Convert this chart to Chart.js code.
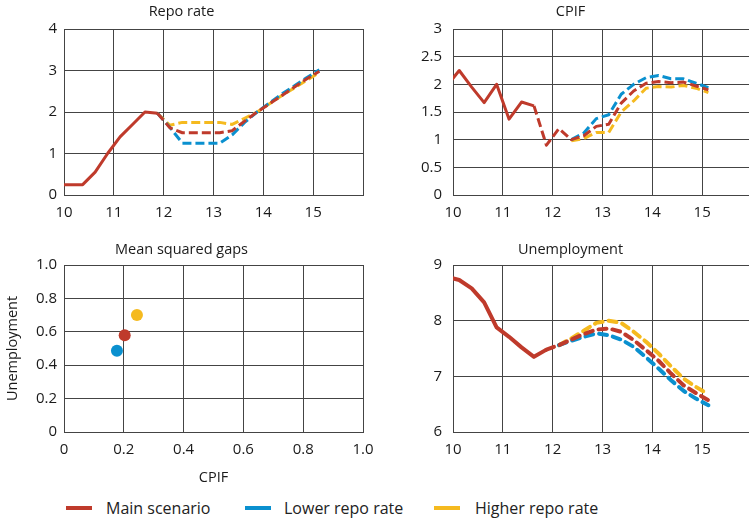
<!DOCTYPE html>
<html><head><meta charset="utf-8">
<script src="https://cdn.jsdelivr.net/npm/chart.js@4.4.0/dist/chart.umd.min.js"></script>
<style>
html,body{margin:0;padding:0;width:749px;height:520px;overflow:hidden;background:#fff;font-family:'Open Sans',sans-serif;}
.panel{position:absolute;}
#legend{position:absolute;left:0;top:498px;width:749px;height:20px;font-size:16px;color:#222;}
.item{position:absolute;top:0;height:20px;line-height:20px;white-space:nowrap;}
.swatch{position:absolute;top:8px;height:4px;width:26px;}
</style></head><body>
<div class="panel" style="left:0;top:0"><canvas id="c1" width="427" height="225"></canvas></div>
<div class="panel" style="left:389px;top:0"><canvas id="c2" width="427" height="225"></canvas></div>
<div class="panel" style="left:0;top:236px"><canvas id="c3" width="427" height="256"></canvas></div>
<div class="panel" style="left:389px;top:236px"><canvas id="c4" width="427" height="226"></canvas></div>
<div id="legend">
  <div class="swatch" style="left:66px;background:#bf3a2b"></div><div class="item" style="left:106px">Main scenario</div>
  <div class="swatch" style="left:245px;background:#0a90cf"></div><div class="item" style="left:284px">Lower repo rate</div>
  <div class="swatch" style="left:434px;background:#f5ba1f"></div><div class="item" style="left:475px">Higher repo rate</div>
</div>
<script>
// ---- data (x = year 20xx, quarter midpoints) ----
const quarters = [9.875,10.125,10.375,10.625,10.875,11.125,11.375,11.625,11.875,12.125,12.375,12.625,12.875,13.125,13.375,13.625,13.875,14.125,14.375,14.625,14.875,15.125];
const seriesNames = ['Main scenario','Lower repo rate','Higher repo rate'];

const repoHistory = [0.25,0.25,0.25,0.55,1.0,1.4,1.7,2.0,1.97,null,null,null,null,null,null,null,null,null,null,null,null,null];
const repoMain    = [null,null,null,null,null,null,null,null,1.97,1.62,1.5,1.5,1.5,1.5,1.55,1.78,2.0,2.2,2.4,2.6,2.8,2.98];
const repoLower   = [null,null,null,null,null,null,null,null,1.97,1.63,1.25,1.25,1.25,1.25,1.45,1.75,2.0,2.22,2.44,2.63,2.83,3.02];
const repoHigher  = [null,null,null,null,null,null,null,null,1.97,1.68,1.75,1.75,1.75,1.75,1.7,1.85,2.0,2.2,2.4,2.58,2.77,2.95];

const cpifHistory = [1.97,2.25,1.95,1.67,2.0,1.37,1.68,1.61,null,null,null,null,null,null,null,null,null,null,null,null,null,null];
const cpifMain    = [null,null,null,null,null,null,null,1.61,0.9,1.2,1.0,1.07,1.24,1.28,1.66,1.88,2.02,2.05,2.03,2.04,1.97,1.9];
const cpifLower   = [null,null,null,null,null,null,null,null,null,null,1.0,1.12,1.38,1.45,1.82,2.0,2.12,2.16,2.1,2.1,2.02,1.94];
const cpifHigher  = [null,null,null,null,null,null,null,null,null,null,0.98,1.02,1.13,1.13,1.5,1.7,1.93,1.96,1.95,1.98,1.93,1.85];

const unempHistory = [8.79,8.73,8.58,8.33,7.88,7.71,7.52,7.35,7.48,null,null,null,null,null,null,null,null,null,null,null,null,null];
const unempMain    = [null,null,null,null,null,null,null,null,7.48,7.56,7.66,7.76,7.84,7.86,7.8,7.65,7.47,7.28,7.05,6.84,6.7,6.57];
const unempLower   = [null,null,null,null,null,null,null,null,null,7.56,7.64,7.71,7.77,7.74,7.66,7.53,7.34,7.14,6.93,6.74,6.6,6.48];
const unempHigher  = [null,null,null,null,null,null,null,null,null,7.56,7.68,7.82,7.96,8.0,7.96,7.8,7.62,7.41,7.18,6.96,6.81,6.68];

// mean squared gaps: [CPIF, Unemployment] per scenario
const gapCPIF  = [0.203, 0.177, 0.244];
const gapUnemp = [0.58, 0.486, 0.70];

const yearTicks = [10,11,12,13,14,15];

// ---- styles ----
const RED='#bf3a2b', BLUE='#0a90cf', YEL='#f5ba1f';
const GRID='#444444', TXT='#1a1a1a';
const FONT="'Open Sans', sans-serif";
Chart.defaults.font.family = FONT;
Chart.defaults.color = TXT;
Chart.defaults.animation = false;

function pts(arr){ return quarters.map((x,i)=>({x, y: arr[i]})).filter(p=>p.y!==null); }
function line(arr, color, dashed, width){
  return {data: pts(arr), borderColor: color, backgroundColor: color, borderWidth: width,
          borderDash: dashed ? [9,4] : [], pointRadius: 0, fill:false, tension:0,
          borderCapStyle: 'butt', borderJoinStyle:'round'};
}
function timeChart(id, title, datasets, ymin, ymax, ystep, ypad, titlePad, fmt){
  return new Chart(document.getElementById(id), {
    type:'line',
    data:{datasets},
    options:{
      responsive:false, animation:false,
      layout:{padding:{left:0,right:64,top:0,bottom:0}},
      plugins:{legend:{display:false}, tooltip:{enabled:false},
        title:{display:true, text:title, color:TXT, font:{size:14.5, weight:'normal'}, padding:titlePad}},
      scales:{
        x:{type:'linear', min:10, max:16,
           afterBuildTicks: s => { s.ticks = yearTicks.concat([16]).map(v=>({value:v})); },
           ticks:{padding:9, font:{size:15}, color:TXT, autoSkip:false, maxRotation:0,
                  callback: v => yearTicks.includes(v) ? String(v) : ''},
           grid:{color:GRID, drawTicks:false, lineWidth:1},
           border:{color:GRID, width:1},
           afterFit: s => { s.height = 30; }},
        y:{min:ymin, max:ymax,
           ticks:{stepSize:ystep, padding:ypad, font:{size:15}, color:TXT, callback: fmt || (v=>String(v))},
           grid:{color:GRID, drawTicks:false, lineWidth:1},
           border:{color:GRID, width:1},
           afterFit: s => { s.width = 64; }}
      }
    }
  });
}

// Repo rate
timeChart('c1','Repo rate',[
  line(repoHistory, RED, false, 3),
  line(repoMain, RED, true, 3),
  line(repoLower, BLUE, true, 3),
  line(repoHigher, YEL, true, 3)
], 0, 4, 1, 7, {top:3,bottom:8.6});

// CPIF
timeChart('c2','CPIF',[
  line(cpifHistory, RED, false, 3),
  line(cpifMain, RED, true, 3),
  line(cpifLower, BLUE, true, 3),
  line(cpifHigher, YEL, true, 3)
], 0, 3, 0.5, 11, {top:3,bottom:8.6});

// Unemployment
const uds = [
  line(unempHistory, RED, false, 4),
  line(unempMain, RED, true, 4),
  line(unempLower, BLUE, true, 4),
  line(unempHigher, YEL, true, 4)
];
uds.forEach(d=>{ if(d.borderDash.length){ d.borderDash=[8,6]; d.borderCapStyle='round'; }});
timeChart('c4','Unemployment',uds, 6, 9, 1, 11, {top:5,bottom:6.6});

// Mean squared gaps
const fmt1 = v => v===0 ? '0' : v.toFixed(1);
new Chart(document.getElementById('c3'), {
  type:'scatter',
  data:{datasets:[RED,BLUE,YEL].map((c,i)=>({label:seriesNames[i], data:[{x:gapCPIF[i], y:gapUnemp[i]}],
        pointRadius:6, pointBackgroundColor:c, pointBorderColor:c, pointBorderWidth:0}))},
  options:{
    responsive:false, animation:false,
    layout:{padding:{left:0,right:64,top:0,bottom:0}},
    plugins:{legend:{display:false}, tooltip:{enabled:false},
      title:{display:true, text:'Mean squared gaps', color:TXT, font:{size:14.5, weight:'normal'}, padding:{top:5,bottom:6.6}}},
    scales:{
      x:{type:'linear', min:0, max:1,
         ticks:{stepSize:0.2, padding:9, font:{size:15}, color:TXT, callback:fmt1},
         grid:{color:GRID, drawTicks:false}, border:{color:GRID,width:1},
         title:{display:true, text:'CPIF', color:TXT, font:{size:14.5}, padding:{top:0,bottom:5.3}},
         afterFit: s => { s.height = 60; }},
      y:{min:0, max:1,
         ticks:{stepSize:0.2, padding:7, font:{size:15}, color:TXT, callback:fmt1},
         grid:{color:GRID, drawTicks:false}, border:{color:GRID,width:1},
         title:{display:true, text:'Unemployment', color:TXT, font:{size:14.5}, padding:{top:4.3,bottom:0}},
         afterFit: s => { s.width = 64; }}
    }
  }
});
</script>
</body></html>
